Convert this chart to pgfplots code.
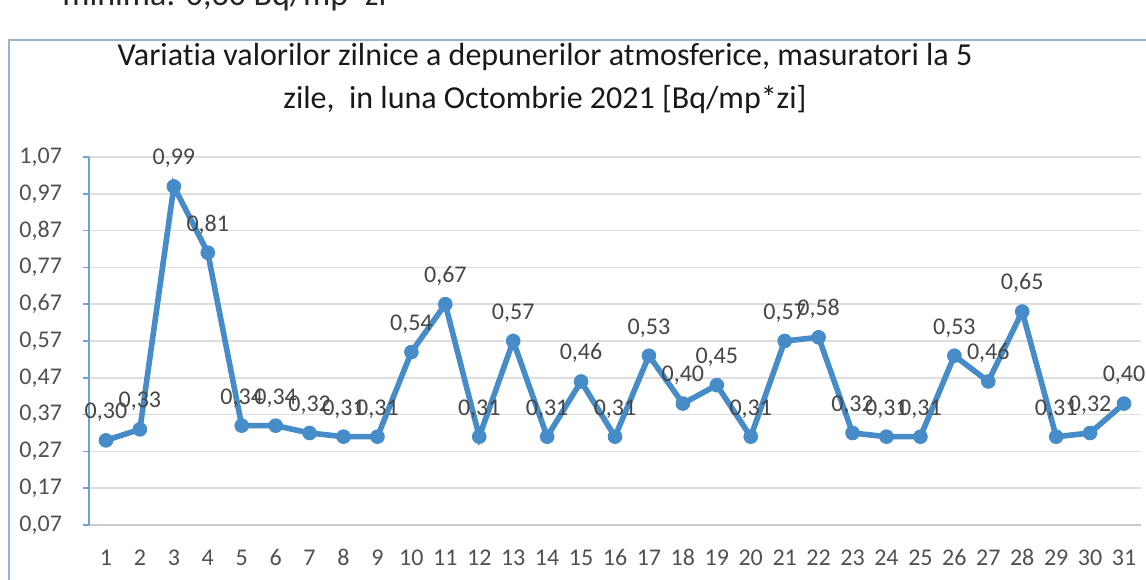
\documentclass[border=0pt]{standalone}
\usepackage{fontspec}
\setmainfont{Carlito}[Numbers=Lining, Ligatures=NoCommon]
\usepackage{pgfplots}
\pgfplotsset{compat=1.18}
\definecolor{lineblue}{RGB}{70,140,200}
\definecolor{gridgray}{RGB}{222,222,222}
\definecolor{framecol}{RGB}{150,180,205}
\definecolor{labgray}{RGB}{70,70,70}
\definecolor{tickgray}{RGB}{80,80,80}
\begin{document}
\begin{tikzpicture}[x=1pt,y=1pt]
\path[use as bounding box] (0,0) rectangle (573,289.5);
\clip (0,0) rectangle (573,289.5);
% partially visible text from the page above the chart
\node[anchor=base west, inner sep=0pt, font=\fontsize{17}{20}\selectfont, text=black!85] at (31,286.5) {minima: 0,30 Bq/mp*zi};
% chart frame
\draw[framecol, line width=1.2pt] (4.5,-5) -- (4.5,269.5) -- (580,269.5);
% title
\node[align=center, font=\fontsize{16}{21.5}\selectfont, text=black!90] at (272.5,250.5)
  {Variatia valorilor zilnice a depunerilor atmosferice, masuratori la 5\\zile,\ \ in luna Octombrie 2021 [Bq/mp*zi]};
\begin{axis}[
  name=main,
  at={(44.5pt,27pt)}, anchor=south west,
  scale only axis, width=526pt, height=184pt,
  xmin=0.5, xmax=31.5, ymin=0.07, ymax=1.07,
  xtick={1,...,31}, ytick={0.07,0.17,...,1.08},
  /pgf/number format/.cd, use comma, fixed, fixed zerofill, precision=2, assume math mode=true,
  /pgfplots/.cd,
  axis x line*=bottom, axis y line*=left,
  x axis line style={draw=gridgray!80!gray, line width=0.8pt},
  y axis line style={draw=lineblue!80, line width=0.8pt},
  ymajorgrids, grid style={gridgray, line width=0.8pt},
  major x tick style={draw=none},
  major y tick style={draw=lineblue!80, line width=0.8pt},
  tick align=outside, major tick length=3pt,
  ticklabel style={font=\fontsize{12}{14}\selectfont, text=tickgray},
  yticklabel style={xshift=-7pt},
  xticklabel={\pgfmathprintnumber[precision=0,fixed zerofill=false]{\tick}},
  xticklabel style={yshift=-5pt, text height=8.5pt, text depth=0pt},
  nodes near coords,
  every node near coord/.append style={font=\fontsize{12}{14}\selectfont, text=labgray, anchor=south, inner sep=1pt, yshift=8pt},
]
\addplot[color=lineblue, line width=2.8pt, mark=*, mark size=3.4pt, mark options={fill=lineblue, draw=lineblue, line width=0.5pt}] coordinates {
(1,0.30) (2,0.33) (3,0.99) (4,0.81) (5,0.34) (6,0.34) (7,0.32) (8,0.31) (9,0.31) (10,0.54)
(11,0.67) (12,0.31) (13,0.57) (14,0.31) (15,0.46) (16,0.31) (17,0.53) (18,0.40) (19,0.45) (20,0.31)
(21,0.57) (22,0.58) (23,0.32) (24,0.31) (25,0.31) (26,0.53) (27,0.46) (28,0.65) (29,0.31) (30,0.32)
(31,0.40)
};
\end{axis}
\end{tikzpicture}
\end{document}
